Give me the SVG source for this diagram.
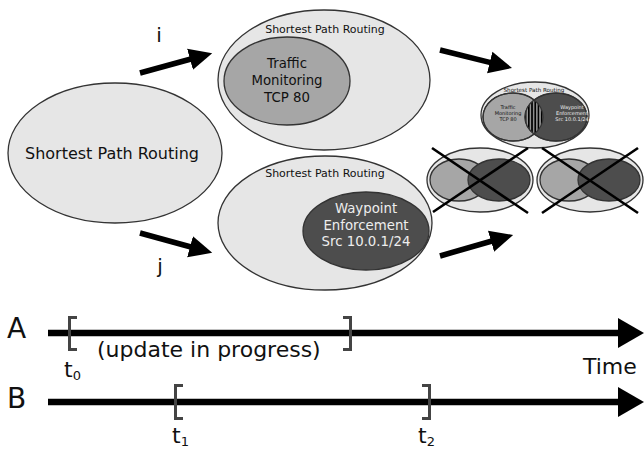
<svg xmlns="http://www.w3.org/2000/svg" width="644" height="449" viewBox="0 0 644 449">
<style>
text{font-family:"DejaVu Sans","Liberation Sans",sans-serif;fill:#111}
.outer{fill:#e6e6e6;stroke:#333;stroke-width:1.3}
.mid{fill:#a6a6a6;stroke:#333;stroke-width:1.3}
.dark{fill:#4d4d4d;stroke:#333;stroke-width:1.3}
.wt{fill:#eee}
.arrow{stroke:#000;stroke-width:5.5;fill:none;marker-end:url(#head)}
.cross{stroke:#000;stroke-width:2.6}
.tl{stroke:#000;stroke-width:6.5}
.br{stroke:#444;stroke-width:3;fill:none}
</style>
<defs>
<marker id="head" markerUnits="userSpaceOnUse" markerWidth="24" markerHeight="24" viewBox="0 0 24 24" refX="1" refY="12" orient="auto">
<path d="M0,1 L23,12 L0,23 z" fill="#000"/>
</marker>
<pattern id="stripes" patternUnits="userSpaceOnUse" width="3.2" height="10">
<rect width="3.2" height="10" fill="#9a9a9a"/>
<rect width="1.7" height="10" fill="#000"/>
</pattern>
<clipPath id="lensclip"><ellipse cx="513" cy="117" rx="30" ry="24"/></clipPath>
</defs>

<g id="spr-left">
<ellipse class="outer" cx="115" cy="153" rx="107" ry="70"/>
<text x="112" y="159" font-size="16" text-anchor="middle">Shortest Path Routing</text>
</g>

<g id="spr-traffic">
<ellipse class="outer" cx="324" cy="80" rx="106" ry="70"/>
<text x="325" y="33" font-size="11" text-anchor="middle">Shortest Path Routing</text>
<ellipse class="mid" cx="287" cy="81" rx="63" ry="44"/>
<text x="287" y="68" font-size="13.3" text-anchor="middle">Traffic</text>
<text x="287" y="85" font-size="13.3" text-anchor="middle">Monitoring</text>
<text x="287" y="102" font-size="13.3" text-anchor="middle">TCP 80</text>
</g>

<g id="spr-waypoint">
<ellipse class="outer" cx="325" cy="223" rx="107" ry="67"/>
<text x="325" y="177" font-size="11" text-anchor="middle">Shortest Path Routing</text>
<ellipse class="dark" cx="366" cy="231" rx="63" ry="39"/>
<text class="wt" x="366" y="213" font-size="13.3" text-anchor="middle">Waypoint</text>
<text class="wt" x="366" y="230" font-size="13.3" text-anchor="middle">Enforcement</text>
<text class="wt" x="366" y="246" font-size="13.3" text-anchor="middle">Src 10.0.1/24</text>
</g>

<g id="combined">
<ellipse class="outer" cx="535" cy="115" rx="54" ry="33"/>
<text x="534" y="92" font-size="5.6" text-anchor="middle">Shortest Path Routing</text>
<ellipse class="mid" cx="513" cy="117" rx="30" ry="24"/>
<ellipse class="dark" cx="556" cy="117" rx="31" ry="24"/>
<ellipse cx="556" cy="117" rx="31" ry="24" fill="url(#stripes)" clip-path="url(#lensclip)"/>
<ellipse cx="513" cy="117" rx="30" ry="24" fill="none" stroke="#333" stroke-width="1.2"/>
<ellipse cx="556" cy="117" rx="31" ry="24" fill="none" stroke="#333" stroke-width="1.2"/>
<text x="508" y="109" font-size="5" text-anchor="middle">Traffic</text>
<text x="508" y="115" font-size="5" text-anchor="middle">Monitoring</text>
<text x="508" y="121" font-size="5" text-anchor="middle">TCP 80</text>
<text class="wt" x="572" y="109" font-size="5" text-anchor="middle">Waypoint</text>
<text class="wt" x="572" y="115" font-size="5" text-anchor="middle">Enforcement</text>
<text class="wt" x="572" y="121" font-size="5" text-anchor="middle">Src 10.0.1/24</text>
</g>

<g id="crossed-1">
<ellipse class="outer" cx="480" cy="180" rx="53" ry="32"/>
<ellipse class="mid" cx="459" cy="180" rx="29" ry="21"/>
<ellipse class="dark" cx="499" cy="180" rx="31" ry="21"/>
<line class="cross" x1="432" y1="148" x2="528" y2="213"/>
<line class="cross" x1="433" y1="212" x2="528" y2="148"/>
</g>

<g id="crossed-2">
<ellipse class="outer" cx="590" cy="180" rx="53" ry="32"/>
<ellipse class="mid" cx="569" cy="180" rx="29" ry="21"/>
<ellipse class="dark" cx="609" cy="180" rx="31" ry="21"/>
<line class="cross" x1="542" y1="148" x2="638" y2="213"/>
<line class="cross" x1="542" y1="213" x2="638" y2="148"/>
</g>

<g id="connectors">
<line class="arrow" x1="140" y1="73" x2="191" y2="59"/>
<line class="arrow" x1="140" y1="233" x2="191" y2="247"/>
<line class="arrow" x1="440" y1="50" x2="490.7" y2="62.7"/>
<line class="arrow" x1="440" y1="256" x2="492" y2="241"/>
<text x="159" y="42" font-size="20" text-anchor="middle">i</text>
<text x="160" y="273" font-size="20" text-anchor="middle">j</text>
</g>

<g id="timeline-a">
<text x="7" y="338" font-size="28">A</text>
<line class="tl" x1="48" y1="333" x2="620" y2="333"/>
<polygon points="618,318 644,333 618,348" fill="#000"/>
<path class="br" d="M77,317.5 H69.5 V349.5 H77"/>
<path class="br" d="M343,317.5 H350.5 V349.5 H343"/>
<text x="97" y="357" font-size="22">(update in progress)</text>
<text x="64" y="377" font-size="22">t<tspan font-size="13" dy="3">0</tspan></text>
<text x="583" y="374" font-size="22">Time</text>
</g>

<g id="timeline-b">
<text x="7" y="408" font-size="28">B</text>
<line class="tl" x1="48" y1="402" x2="620" y2="402"/>
<polygon points="618,387 644,402 618,417" fill="#000"/>
<path class="br" d="M183,385.5 H175.5 V418.5 H183"/>
<path class="br" d="M422,385.5 H429.5 V418.5 H422"/>
<text x="172" y="443" font-size="22">t<tspan font-size="13" dy="3">1</tspan></text>
<text x="418" y="443" font-size="22">t<tspan font-size="13" dy="3">2</tspan></text>
</g>
</svg>
